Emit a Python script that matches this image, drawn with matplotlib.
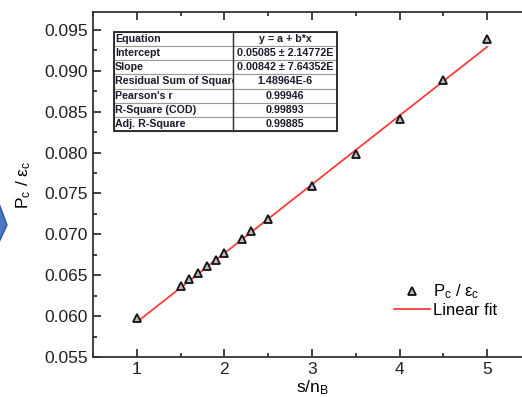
import matplotlib
matplotlib.use("Agg")
import matplotlib.pyplot as plt
from matplotlib.patches import Polygon, Rectangle
from matplotlib.ticker import MultipleLocator
import numpy as np

plt.rcParams['font.family'] = ['Liberation Sans', 'DejaVu Sans']
plt.rcParams['mathtext.fontset'] = 'custom'
plt.rcParams['mathtext.rm'] = 'Liberation Sans'
plt.rcParams['mathtext.it'] = 'Liberation Sans:italic'

# measured data
s_over_nB = [1.0, 1.5, 1.6, 1.7, 1.8, 1.9, 2.0, 2.2, 2.3, 2.5, 3.0, 3.5, 4.0, 4.5, 5.0]
pc_over_ec = [0.05974, 0.0637, 0.0645, 0.06526, 0.06607, 0.06689, 0.0677,
              0.06946, 0.07036, 0.07191, 0.07596, 0.07988, 0.08417, 0.08886, 0.09393]

# linear fit results
intercept = 0.05085
slope = 0.00842
fit_x = [1.0, 5.0]

table_rows = [
    ["Equation", "y = a + b*x"],
    ["Intercept", "0.05085 \u00b1 2.14772E"],
    ["Slope", "0.00842 \u00b1 7.64352E"],
    ["Residual Sum of Square", "1.48964E-6"],
    ["Pearson's r", "0.99946"],
    ["R-Square (COD)", "0.99893"],
    ["Adj. R-Square", "0.99885"],
]

W, H = 522, 397
fig = plt.figure(figsize=(W / 100, H / 100), dpi=100)
ax = fig.add_axes([93 / W, 40 / H, 438 / W, 345 / H])

ax.plot(s_over_nB, pc_over_ec, linestyle='none', marker='^', markersize=6,
        markerfacecolor='#bbbbbb', markeredgecolor='#111111', markeredgewidth=1.3,
        label=r'P$_\mathregular{c}$ / ε$_\mathregular{c}$', zorder=3)
fx = np.array(fit_x)
ax.plot(fx, intercept + slope * fx, color='#ff3b3b', lw=1.3, label='Linear fit', zorder=2)

ax.set_xlim(0.5, 5.5)
ax.set_ylim(0.055, 0.0972)
ax.xaxis.set_major_locator(MultipleLocator(1))
ax.xaxis.set_minor_locator(MultipleLocator(0.5))
ax.yaxis.set_major_locator(MultipleLocator(0.005))
ax.yaxis.set_minor_locator(MultipleLocator(0.0025))
ax.yaxis.set_major_formatter(matplotlib.ticker.FormatStrFormatter('%.3f'))
ax.tick_params(which='both', direction='in', top=True, right=True, labelsize=12.5,
               colors='#222222', width=1.2)
ax.tick_params(which='major', length=6)
ax.tick_params(which='minor', length=3)
for sp in ax.spines.values():
    sp.set_linewidth(1.3)
    sp.set_color('#333333')

ax.set_xlabel(r's/n$_\mathregular{B}$', fontsize=12.5, labelpad=1)
ax.set_ylabel(r'P$_\mathregular{c}$ / ε$_\mathregular{c}$', fontsize=12.5, labelpad=8)

leg = ax.legend(loc='upper left', bbox_to_anchor=(0.66, 0.25), frameon=False,
                fontsize=12, handlelength=2.2, handletextpad=0.15, labelspacing=0.1,
                borderpad=0.2)

# fit-results table
tx0, ty0 = 21 / 438, 226 / 345
tw, th = 223 / 438, 99 / 345
col1 = 119 / 223
tbl = ax.table(cellText=table_rows, colWidths=[col1, 1 - col1],
               bbox=[tx0, ty0, tw, th], cellLoc='left', zorder=4)
tbl.auto_set_font_size(False)
for (r, c), cell in tbl.get_celld().items():
    cell.set_edgecolor('#9a9a9a')
    cell.set_linewidth(0.8)
    cell.set_facecolor('white')
    cell.PAD = 0.01
    t = cell.get_text()
    t.set_fontsize(7.7)
    t.set_fontweight('bold')
    t.set_color('#1a1a2a')
    if c == 1:
        t.set_horizontalalignment('center')
        cell._loc = 'center'
ax.add_patch(Rectangle((tx0, ty0), tw, th, transform=ax.transAxes, fill=False,
                       edgecolor='#222222', lw=1.3, zorder=5))
ax.plot([tx0 + tw * col1] * 2, [ty0, ty0 + th], transform=ax.transAxes,
        color='#333333', lw=1.0, zorder=5)

# partial blue chevron at the left edge
pts = [(-6, 190), (7, 225), (-6, 253)]
chev = Polygon([(x / W, 1 - y / H) for x, y in pts], closed=True,
               transform=fig.transFigure, facecolor='#4a78c0', edgecolor='#2f5597',
               lw=1.0)
fig.patches.append(chev)

fig.savefig('out.png', dpi=100)
